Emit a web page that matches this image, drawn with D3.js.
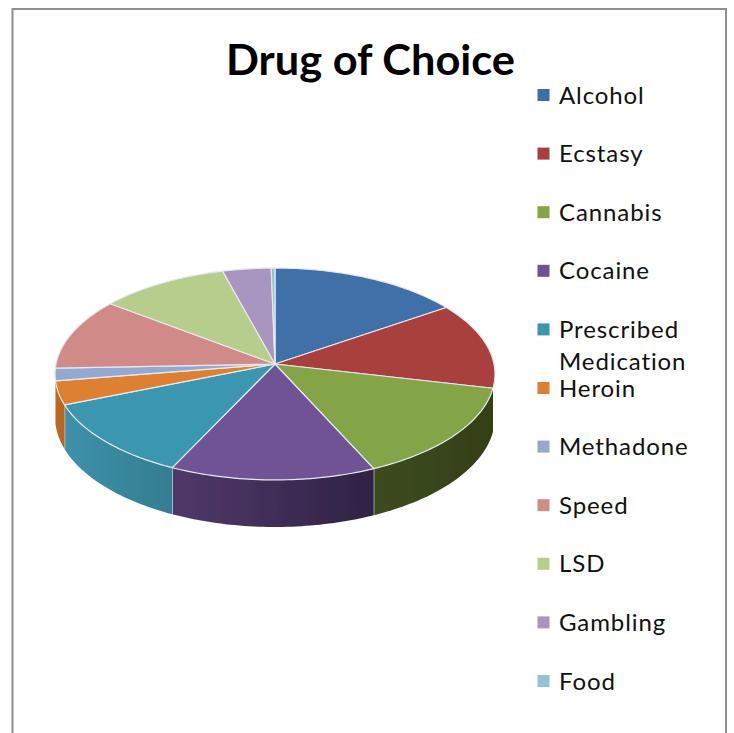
<!DOCTYPE html>
<html><head><meta charset="utf-8">
<script src="https://cdn.jsdelivr.net/npm/d3@7/dist/d3.min.js"></script>
<style>html,body{margin:0;padding:0;background:#fff;overflow:hidden}svg{display:block}</style>
</head><body><div id="c"></div>
<script>
const categories=["Alcohol","Ecstasy","Cannabis","Cocaine","Prescribed Medication","Heroin","Methadone","Speed","LSD","Gambling","Food"];
const values=[15.4,13.2,14.6,13.8,11.8,3.6,1.9,11,10.4,3.9,0.3];
const colors=["#3f6fa8","#a83f3c","#84a546","#6f5294","#3a97b0","#de8031","#93a9d0","#d08a88","#b6cd8c","#a896c0","#90c4d5"];
const sideStart=[null,null,"#333f18","#2f2245","#347d90","#b8651e",null,null,null,null,null];
const sideEnd=[null,null,"#3d4c1e","#50396a","#3d91aa","#c06a20",null,null,null,null,null];

const W=734,H=733,cx=275,cy=364,R=219,S=105,k=0.0943,D=42.6;
const svg=d3.select("#c").append("svg").attr("width",W).attr("height",H)
  .style("font-family","Lato, 'Open Sans', sans-serif");
const defs=svg.append("defs");
defs.append("filter").attr("id","soft").append("feGaussianBlur").attr("stdDeviation",0.55);

svg.append("rect").attr("x",12.5).attr("y",9).attr("width",713.5).attr("height",H+20)
  .attr("fill","#fff").attr("stroke","#8f8f8f").attr("stroke-width",2);

svg.append("text").attr("x",370.5).attr("y",75).attr("text-anchor","middle")
  .attr("font-size",42).attr("font-weight",700).attr("fill","#000")
  .attr("textLength",289).attr("lengthAdjust","spacingAndGlyphs").text("Drug of Choice");

// perspective projection of the unit disc
function project(a,drop){
  const u=Math.sin(a),v=-Math.cos(a),w=1-k*v;
  return [cx+R*u/w, cy+S*v/w+(drop?D/w:0)];
}
const arcs=d3.pie().value(d=>d).sort(null)(values);
const line=d3.line();
const sample=(a0,a1)=>{const n=Math.max(2,Math.ceil((a1-a0)/0.02));return d3.range(n+1).map(i=>a0+(a1-a0)*i/n);};

const g=svg.append("g").attr("filter","url(#soft)");
arcs.forEach((d,i)=>{
  if(!sideStart[i])return;
  const as=sample(d.startAngle,d.endAngle);
  const top=as.map(a=>project(a,false)),bot=as.map(a=>project(a,true)).reverse();
  const xs=top.map(p=>p[0]);
  const id="side"+i;
  const lg=defs.append("linearGradient").attr("id",id).attr("gradientUnits","userSpaceOnUse")
    .attr("x1",d3.max(xs)).attr("x2",d3.min(xs)).attr("y1",0).attr("y2",0);
  lg.append("stop").attr("offset",0).attr("stop-color",sideStart[i]);
  lg.append("stop").attr("offset",1).attr("stop-color",sideEnd[i]);
  g.append("path").attr("d",line(top.concat(bot))+"Z").attr("fill",`url(#${id})`);
  const e=project(d.endAngle,false),e2=project(d.endAngle,true);
  if(i<5) g.append("path").attr("d",line([e,e2])).attr("stroke","#cfd6df").attr("stroke-width",1.3);
});
{ // light line at the first visible side edge
  const a=arcs[2].startAngle;
}
arcs.forEach((d,i)=>{
  const pts=[[cx,cy]].concat(sample(d.startAngle,d.endAngle).map(a=>project(a,false)));
  g.append("path").attr("d",line(pts)+"Z").attr("fill",colors[i])
    .attr("stroke","#e6e9ee").attr("stroke-width",1.2).attr("stroke-linejoin","round");
});

const y=d3.scalePoint().domain(categories).range([95,681]);
const leg=svg.append("g");
categories.forEach((c,i)=>{
  const yy=y(c);
  leg.append("rect").attr("x",537.5).attr("y",yy-6).attr("width",12).attr("height",12).attr("fill",colors[i]);
  const words=c==="Prescribed Medication"?["Prescribed","Medication"]:[c];
  words.forEach((t,j)=>{
    leg.append("text").attr("x",559).attr("y",yy+8.5+j*32.5)
      .attr("font-size",24).attr("letter-spacing",0.9).attr("fill","#111").text(t);
  });
});
</script></body></html>
